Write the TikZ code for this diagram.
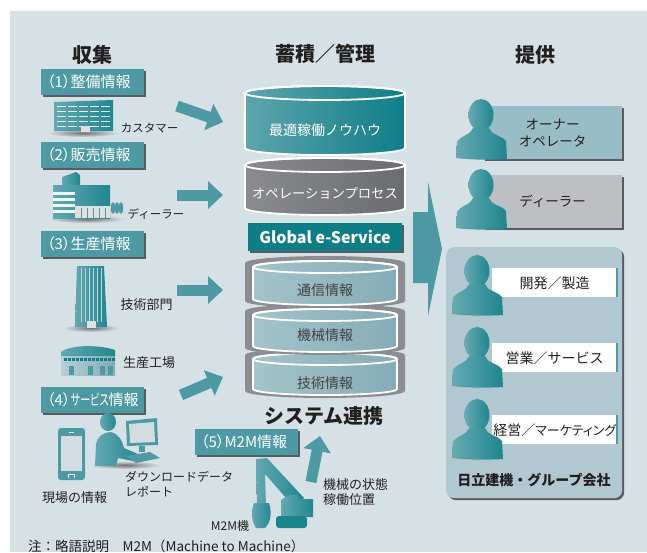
\documentclass[tikz,border=0pt]{standalone}
\usepackage{fontspec}
\setmainfont{Noto Sans CJK JP}
\newfontfamily\paltfont{Noto Sans CJK JP}[RawFeature=+palt]
\usetikzlibrary{arrows.meta,shadows}

\definecolor{paneblue}{HTML}{D6E1E6}
\definecolor{tagteal}{HTML}{4D9AA5}
\definecolor{deepteal}{HTML}{0E7E86}
\definecolor{lightteal}{HTML}{63A8B1}
\definecolor{shadowgray}{HTML}{5A5B5E}
\definecolor{inkgray}{HTML}{231F20}
\definecolor{shellgray}{HTML}{8C8D91}
\definecolor{dbblueL}{HTML}{A4C3CA}
\definecolor{dbblueR}{HTML}{85ACB6}
\definecolor{opgrayL}{HTML}{8A8B8F}
\definecolor{opgrayR}{HTML}{6B6C70}
\definecolor{ownerbox}{HTML}{99BDC7}
\definecolor{dealerbox}{HTML}{BEBFC3}
\definecolor{groupbox}{HTML}{B2C8D0}
\definecolor{screengray}{HTML}{D2DDE1}

\begin{document}
\begin{tikzpicture}[x=1pt, y=-1pt,
    every node/.style={inner sep=0pt},
    heading/.style={font=\fontsize{20}{20}\selectfont\bfseries, text=inkgray},
    boxshadow/.style={drop shadow={shadow xshift=2pt, shadow yshift=-2pt, fill=shadowgray, opacity=1}},
    tag/.style={fill=tagteal, text=white, font=\paltfont\fontsize{15}{15}\selectfont, anchor=west,
      minimum height=26pt, text width=91pt, inner xsep=6pt, align=left, boxshadow},
    caption/.style={font=\fontsize{12}{15}\selectfont, text=inkgray},
    dbtext/.style={font=\fontsize{14}{14}\selectfont, text=inkgray!85},
    dbline/.style={draw=white, line width=1.8pt},
    flow/.style={line width=11pt, tagteal, -{Triangle[length=15pt, width=27pt]}},
    iconfill/.style={left color=lightteal, right color=deepteal!70!tagteal},
    groundshade/.style={inner color=black!55, outer color=paneblue},
    rolebox/.style={minimum width=139pt, minimum height=53pt, anchor=north west,
      font=\fontsize{13.5}{17}\selectfont, text=inkgray, align=center, boxshadow},
    staffbox/.style={fill=white, minimum width=125pt, minimum height=29pt, anchor=north west,
      font=\fontsize{14}{14}\selectfont, text=inkgray},
    person/.style={left color=tagteal!85!white, right color=deepteal!75!tagteal}]

  \useasboundingbox (0,0) rectangle (647,552);
  \fill[paneblue] (10,11) rectangle (647,552);

  % Column headings
  \node[heading] (collect) at (92,55) {収集};
  \node[heading] (store) at (325,54) {蓄積／管理};
  \node[heading] (supply) at (535,55) {提供};

  % Source tags
  \node[tag] (tag1) at (41,82) {（1）整備情報};
  \node[tag] (tag2) at (41,154.5) {（2）販売情報};
  \node[tag] (tag3) at (41,244) {（3）生産情報};
  \node[tag] (tag4) at (41,400) {（4）\scalebox{0.68}[1]{サービス}情報};
  \node[tag] (tag5) at (195,442) {（5）M2M情報};

  % Customer office
  \shade[groundshade] (83,133) ellipse[x radius=36, y radius=4];
  \shade[iconfill] (54,102) -- (113,100) -- (113,131) -- (54,131) -- cycle;
  \foreach \wy in {106,111,116,121,126}
    \draw[white!85!tagteal, line width=1pt, dash pattern=on 9pt off 2pt] (57,\wy) -- (110,\wy);
  \fill[black!12] (81,126) rectangle (90,132);
  \node[caption, font=\fontsize{11.5}{12}\selectfont] (cust) at (149.5,128) {カスタマー};

  % Dealer shop
  \shade[groundshade] (87,219) ellipse[x radius=38, y radius=4];
  \shade[iconfill] (62,177) -- (76,172) -- (80,175) -- (80,188) -- (62,188) -- cycle;
  \shade[iconfill] (53,185) rectangle (110,218);
  \foreach \fy in {192,198,204,210}
    \fill[white!90!tagteal] (53,\fy) rectangle (75,\fy+2.5);
  \fill[black!12] (75,206) rectangle (110,218);
  \foreach \sx in {81,87,93,99,105}
    \draw[tagteal, line width=0.8pt] (\sx,208) -- (\sx,218);
  \foreach \tx in {113,117,121}
    \fill[tagteal] (\tx,208) ellipse[x radius=2.2, y radius=6];
  \node[caption, font=\fontsize{11.5}{12}\selectfont] (dlr) at (156,214) {ディーラー};

  % Engineering tower
  \shade[groundshade] (91,328) ellipse[x radius=28, y radius=4];
  \shade[iconfill] (77,266) -- (104,266) -- (107,327) -- (75,327) -- cycle;
  \foreach \lx in {81,85,...,101}
    \draw[white!60!tagteal, line width=0.6pt] (\lx,268) -- (\lx,322);
  \fill[black!12] (87,321) rectangle (96,328);
  \node[caption, font=\fontsize{13}{13}\selectfont] (eng) at (146.5,305) {技術部門};

  % Plant
  \shade[left color=dbblueL!80!white, right color=dbblueR] (61,354) rectangle (115,375);
  \shade[iconfill] (61,356) -- (61,352) .. controls (72,344) and (100,345) .. (115,350) -- (115,356) -- cycle;
  \foreach \wx in {64,68,...,112}
    \fill[deepteal] (\wx,357.5) rectangle +(2.5,3);
  \foreach \dx in {69,88,100,108}
    \fill[tagteal] (\dx,366) rectangle +(4.5,9);
  \node[caption, font=\fontsize{13}{13}\selectfont] (plant) at (149,363) {生産工場};

  % Field phone
  \fill[tagteal, rounded corners=3pt] (58,428) rectangle (85,480);
  \fill[screengray] (61,436) rectangle (82,471);
  \fill[white] (69,431.5) rectangle (74,433);
  \draw[white, line width=0.8pt] (68.5,478) -- (68.5,474) -- (74.5,474) -- (74.5,478);
  \node[caption, font=\fontsize{13}{13}\selectfont] (field) at (74.5,498) {現場の情報};

  % Service desk
  \shade[groundshade] (125,465) ellipse[x radius=35, y radius=4];
  \shade[iconfill] (108,422) ellipse[x radius=8, y radius=9];
  \shade[iconfill] (95,466) -- (96,445) .. controls (97,436) and (103,433) .. (110,432)
    .. controls (118,433) and (122,440) .. (124,448) -- (140,455) -- (138,462)
    -- (118,458) -- (116,466) -- cycle;
  \fill[tagteal] (126,421) -- (157,418) -- (158,445) -- (127,446) -- cycle;
  \fill[screengray] (129,424) -- (154,422) -- (155,442) -- (130,443) -- cycle;
  \fill[tagteal] (139,446) rectangle (145,452);
  \fill[tagteal] (126,456) -- (150,452) -- (160,458) -- (136,463) -- cycle;
  \node[caption, align=left, anchor=west] (dl) at (125,484.5) {ダウンロードデータ\\レポート};

  % Excavator
  \shade[iconfill] (256,459) -- (267,458) -- (304,498) -- (294,507) -- (265,474)
    -- (266,506) -- (257,506) -- cycle;
  \shade[iconfill] (254,503) -- (269,503) .. controls (272,513) and (271,522) .. (265,528)
    -- (256,528) .. controls (251,520) and (251,511) .. (254,503) -- cycle;
  \shade[iconfill] (281,500) -- (289,495) -- (297,495) -- (299,499) -- (313,499)
    -- (313,517) -- (281,517) -- cycle;
  \fill[deepteal!80!tagteal, rounded corners=3pt] (276,516) rectangle (307,528);
  \node[caption] (m2m) at (230,526) {M2M機};
  \node[caption, align=left, anchor=west, font=\fontsize{13}{15}\selectfont] (state) at (323,492.5) {機械の状態\\稼働位置};

  % Flows into the store
  \coordinate (a1s) at (177,106);  \coordinate (a1e) at (223,122);
  \coordinate (a2s) at (177,195);  \coordinate (a2e) at (223,195);
  \coordinate (a3s) at (177,290);  \coordinate (a3e) at (223,290);
  \coordinate (a4s) at (181,395);  \coordinate (a4e) at (223,377);
  \coordinate (a5s) at (311,482);  \coordinate (a5e) at (320,436);
  \draw[flow] (a1s) -- (a1e);
  \draw[flow] (a2s) -- (a2e);
  \draw[flow] (a3s) -- (a3e);
  \draw[flow] (a4s) -- (a4e);
  \draw[flow] (a5s) -- (a5e);

  % Upper databases
  \shadedraw[dbline, left color=opgrayL, right color=opgrayR]
    (245,165) -- (245,208) arc[start angle=180, end angle=0, x radius=80, y radius=7]
    -- (405,165) arc[start angle=0, end angle=-180, x radius=80, y radius=7] -- cycle;
  \draw[dbline] (325,165) ellipse[x radius=80, y radius=7];
  \node[dbtext, text=white, font=\fontsize{13.3}{14}\selectfont] (opproc) at (325,193) {オペレーションプロセス};

  \shadedraw[dbline, left color=tagteal!90!white, right color=deepteal]
    (245,93) -- (245,148) arc[start angle=180, end angle=0, x radius=80, y radius=7]
    -- (405,93) arc[start angle=0, end angle=-180, x radius=80, y radius=7] -- cycle;
  \draw[dbline] (325,93) ellipse[x radius=80, y radius=7];
  \node[dbtext, text=white] (knowhow) at (325,130) {最適稼働ノウハウ};

  \node[fill=deepteal, text=white, font=\fontsize{16}{16}\selectfont\bfseries,
    minimum width=154pt, minimum height=28pt, boxshadow] (gserv) at (325,237) {Global e-Service};

  % Linked system stack
  \foreach \ct/\cb/\cy/\txt/\nm in {359/389/383/技術情報/tech, 315/346/335/機械情報/mach, 267/299/290/通信情報/comm} {
    \shade[left color=shellgray, middle color=shellgray!55!white, right color=shellgray]
      (245,\ct-4) -- (245,\cb+2) arc[start angle=180, end angle=0, x radius=80, y radius=7]
      -- (405,\ct-4) arc[start angle=0, end angle=-180, x radius=80, y radius=7] -- cycle;
    \shadedraw[dbline, left color=dbblueL, right color=dbblueR]
      (253,\ct) -- (253,\cb) arc[start angle=180, end angle=0, x radius=72, y radius=6]
      -- (397,\ct) arc[start angle=0, end angle=-180, x radius=72, y radius=6] -- cycle;
    \draw[dbline] (325,\ct) ellipse[x radius=72, y radius=6];
    \node[dbtext] (\nm) at (325,\cy) {\txt};
  }
  \node[heading] (syslink) at (324,416) {システム連携};

  % Hand-over arrow
  \fill[tagteal] (413,212) -- (428,212) -- (428,182) -- (442,249) -- (428,316)
    -- (428,283) -- (413,283) -- cycle;

  % Users
  \node[rolebox, fill=ownerbox] (owner) at (483,106) {オーナー\\オペレータ};
  \node[rolebox, fill=dealerbox] (dealer) at (483,175) {ディーラー};
  \node[fill=groupbox, rounded corners=8pt, minimum width=176pt, minimum height=251pt,
    anchor=north west, boxshadow] (group) at (446,247) {};
  \node[font=\fontsize{14}{14}\selectfont\bfseries, text=inkgray] (grouplbl) at (534,480) {日立建機・グループ会社};
  \node[staffbox] (dev) at (492,268) {開発／製造};
  \node[staffbox] (sales) at (492,343) {営業／サービス};
  \node[staffbox] (mgmt) at (492,415) {経営／{\paltfont\fontsize{13}{13}\selectfont マーケティング}};
  \foreach \b in {dev,sales,mgmt}
    \draw[tagteal, line width=2pt] (\b.north east) -- (\b.south east);
  \foreach \px/\py in {456/99, 456/169, 452/255, 452/327, 452/399} {
    \begin{scope}[shift={(\px,\py)}]
      \shade[person] (25,16) ellipse[x radius=12.5, y radius=16];
      \shade[person] (17,29) -- (33,29) .. controls (35,36) and (45,36) .. (50,42)
        -- (51,60) .. controls (35,61) and (15,61) .. (0,59) -- (1,43)
        .. controls (5,36) and (15,36) .. (17,29) -- cycle;
    \end{scope}
  }

  % Footnote
  \node[caption, anchor=west, font=\fontsize{13.5}{14}\selectfont] (note) at (28,546)
    {注：略語説明　M2M（Machine to Machine）};
\end{tikzpicture}
\end{document}
